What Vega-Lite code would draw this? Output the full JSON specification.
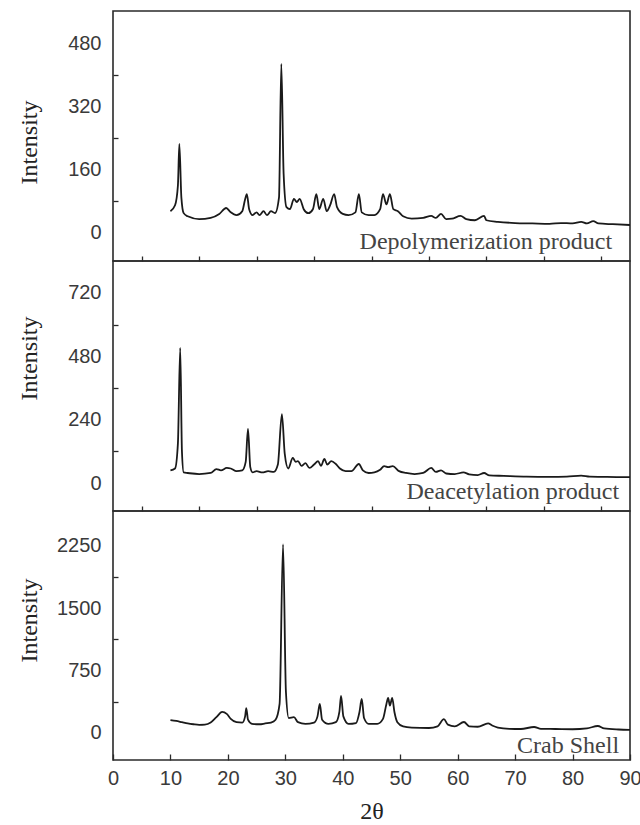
{
  "$schema": "https://vega.github.io/schema/vega-lite/v6.json",
  "padding": {"left": 16, "top": 10, "right": 0, "bottom": 0},
  "background": "white",
  "spacing": 0,
  "bounds": "flush",
  "config": {
    "view": {"stroke": "#2a2a2a", "strokeWidth": 1.6},
    "axis": {
      "domain": false,
      "grid": false,
      "tickColor": "#2a2a2a",
      "tickWidth": 1.3,
      "labelFont": "Liberation Sans",
      "labelFontSize": 20,
      "labelColor": "#3a3a3a",
      "titleFont": "Liberation Serif",
      "titleFontSize": 24,
      "titleFontWeight": "normal",
      "titleColor": "#222222"
    }
  },
  "datasets": {
    "depolymerization": [
      {"theta": 10.0, "intensity": 55}, {"theta": 10.8, "intensity": 70}, {"theta": 11.3, "intensity": 120},
      {"theta": 11.55, "intensity": 225}, {"theta": 11.9, "intensity": 90}, {"theta": 12.3, "intensity": 50},
      {"theta": 13, "intensity": 42}, {"theta": 15, "intensity": 35}, {"theta": 17, "intensity": 38},
      {"theta": 18.5, "intensity": 48}, {"theta": 19.7, "intensity": 63}, {"theta": 20.5, "intensity": 52},
      {"theta": 21.5, "intensity": 45}, {"theta": 22.5, "intensity": 55}, {"theta": 23.0, "intensity": 85},
      {"theta": 23.3, "intensity": 98}, {"theta": 23.7, "intensity": 60}, {"theta": 24.3, "intensity": 45},
      {"theta": 25, "intensity": 52}, {"theta": 25.5, "intensity": 45}, {"theta": 26.2, "intensity": 55},
      {"theta": 26.8, "intensity": 45}, {"theta": 27.5, "intensity": 55}, {"theta": 28.2, "intensity": 50},
      {"theta": 28.9, "intensity": 90}, {"theta": 29.3, "intensity": 427}, {"theta": 29.7, "intensity": 150},
      {"theta": 30.2, "intensity": 65}, {"theta": 30.8, "intensity": 60}, {"theta": 31.5, "intensity": 86},
      {"theta": 32.0, "intensity": 78}, {"theta": 32.5, "intensity": 86}, {"theta": 33.2, "intensity": 60},
      {"theta": 34.0, "intensity": 50}, {"theta": 34.8, "intensity": 60}, {"theta": 35.4, "intensity": 98},
      {"theta": 35.9, "intensity": 60}, {"theta": 36.6, "intensity": 86}, {"theta": 37.2, "intensity": 55},
      {"theta": 37.8, "intensity": 70}, {"theta": 38.5, "intensity": 98}, {"theta": 39.0, "intensity": 65},
      {"theta": 40, "intensity": 48}, {"theta": 41, "intensity": 45}, {"theta": 42.2, "intensity": 52},
      {"theta": 42.8, "intensity": 98}, {"theta": 43.3, "intensity": 52}, {"theta": 44.5, "intensity": 45},
      {"theta": 45.5, "intensity": 45}, {"theta": 46.5, "intensity": 60}, {"theta": 47.0, "intensity": 98},
      {"theta": 47.6, "intensity": 72}, {"theta": 48.2, "intensity": 98}, {"theta": 48.8, "intensity": 60},
      {"theta": 49.6, "intensity": 55}, {"theta": 50.5, "intensity": 42}, {"theta": 52, "intensity": 36},
      {"theta": 54, "intensity": 38}, {"theta": 55.4, "intensity": 43}, {"theta": 56.2, "intensity": 38},
      {"theta": 57.1, "intensity": 48}, {"theta": 58, "intensity": 35}, {"theta": 59, "intensity": 36},
      {"theta": 60.5, "intensity": 43}, {"theta": 61.5, "intensity": 35}, {"theta": 63, "intensity": 32},
      {"theta": 64.6, "intensity": 43}, {"theta": 65, "intensity": 32}, {"theta": 67, "intensity": 28},
      {"theta": 70, "intensity": 25}, {"theta": 73, "intensity": 24}, {"theta": 76, "intensity": 23},
      {"theta": 78, "intensity": 25}, {"theta": 80, "intensity": 24}, {"theta": 81.5, "intensity": 28},
      {"theta": 82.5, "intensity": 24}, {"theta": 83.6, "intensity": 30}, {"theta": 84.5, "intensity": 24},
      {"theta": 87, "intensity": 22}, {"theta": 90, "intensity": 20}
    ],
    "deacetylation": [
      {"theta": 10.0, "intensity": 48}, {"theta": 10.8, "intensity": 55}, {"theta": 11.3, "intensity": 150},
      {"theta": 11.7, "intensity": 512}, {"theta": 12.0, "intensity": 120}, {"theta": 12.3, "intensity": 40},
      {"theta": 13, "intensity": 38}, {"theta": 15, "intensity": 34}, {"theta": 17, "intensity": 38},
      {"theta": 18, "intensity": 53}, {"theta": 18.8, "intensity": 48}, {"theta": 19.8, "intensity": 57},
      {"theta": 20.5, "intensity": 55}, {"theta": 21.5, "intensity": 45}, {"theta": 22.5, "intensity": 48},
      {"theta": 23.1, "intensity": 80}, {"theta": 23.5, "intensity": 205}, {"theta": 23.9, "intensity": 60},
      {"theta": 24.3, "intensity": 40}, {"theta": 25, "intensity": 45}, {"theta": 26, "intensity": 40},
      {"theta": 27, "intensity": 45}, {"theta": 28, "intensity": 42}, {"theta": 28.7, "intensity": 70},
      {"theta": 29.4, "intensity": 261}, {"theta": 29.9, "intensity": 110}, {"theta": 30.5, "intensity": 55},
      {"theta": 31.3, "intensity": 95}, {"theta": 31.8, "intensity": 80}, {"theta": 32.2, "intensity": 83},
      {"theta": 32.8, "intensity": 65}, {"theta": 33.5, "intensity": 75}, {"theta": 34.2, "intensity": 57},
      {"theta": 35, "intensity": 70}, {"theta": 35.7, "intensity": 83}, {"theta": 36.2, "intensity": 65},
      {"theta": 36.8, "intensity": 91}, {"theta": 37.3, "intensity": 70}, {"theta": 38, "intensity": 83},
      {"theta": 38.8, "intensity": 72}, {"theta": 39.5, "intensity": 55}, {"theta": 40.5, "intensity": 45},
      {"theta": 41.5, "intensity": 45}, {"theta": 42.8, "intensity": 72}, {"theta": 43.5, "intensity": 48},
      {"theta": 44.5, "intensity": 38}, {"theta": 45.5, "intensity": 40}, {"theta": 46.5, "intensity": 50},
      {"theta": 47.2, "intensity": 64}, {"theta": 47.9, "intensity": 60}, {"theta": 48.7, "intensity": 64},
      {"theta": 49.8, "intensity": 45}, {"theta": 51, "intensity": 38}, {"theta": 52.5, "intensity": 34},
      {"theta": 54, "intensity": 38}, {"theta": 55.4, "intensity": 57}, {"theta": 56.2, "intensity": 42},
      {"theta": 57.1, "intensity": 48}, {"theta": 58, "intensity": 36}, {"theta": 59.5, "intensity": 34},
      {"theta": 61, "intensity": 40}, {"theta": 62, "intensity": 33}, {"theta": 63.5, "intensity": 30},
      {"theta": 64.6, "intensity": 38}, {"theta": 65.5, "intensity": 29}, {"theta": 68, "intensity": 27},
      {"theta": 72, "intensity": 24}, {"theta": 76, "intensity": 23}, {"theta": 79, "intensity": 24},
      {"theta": 81.5, "intensity": 28}, {"theta": 83, "intensity": 24}, {"theta": 86, "intensity": 23},
      {"theta": 90, "intensity": 22}
    ],
    "crabShell": [
      {"theta": 10, "intensity": 155}, {"theta": 11, "intensity": 145}, {"theta": 12, "intensity": 130},
      {"theta": 13, "intensity": 115}, {"theta": 14, "intensity": 105}, {"theta": 15, "intensity": 98},
      {"theta": 16, "intensity": 100}, {"theta": 17, "intensity": 125}, {"theta": 18, "intensity": 190},
      {"theta": 19, "intensity": 253}, {"theta": 19.8, "intensity": 230}, {"theta": 20.5, "intensity": 170},
      {"theta": 21.5, "intensity": 130}, {"theta": 22.5, "intensity": 125}, {"theta": 23.0, "intensity": 200},
      {"theta": 23.2, "intensity": 300}, {"theta": 23.5, "intensity": 160}, {"theta": 24.2, "intensity": 110},
      {"theta": 25.5, "intensity": 105}, {"theta": 26.5, "intensity": 115}, {"theta": 27.5, "intensity": 125},
      {"theta": 28.3, "intensity": 160}, {"theta": 29.0, "intensity": 350}, {"theta": 29.6, "intensity": 2270},
      {"theta": 30.1, "intensity": 500}, {"theta": 30.6, "intensity": 180}, {"theta": 31.5, "intensity": 190},
      {"theta": 32.2, "intensity": 130}, {"theta": 33.5, "intensity": 110}, {"theta": 35.0, "intensity": 125},
      {"theta": 35.6, "intensity": 200}, {"theta": 36.0, "intensity": 350}, {"theta": 36.4, "intensity": 160},
      {"theta": 37.5, "intensity": 110}, {"theta": 38.8, "intensity": 130}, {"theta": 39.4, "intensity": 250},
      {"theta": 39.7, "intensity": 445}, {"theta": 40.1, "intensity": 200}, {"theta": 41, "intensity": 110},
      {"theta": 42.3, "intensity": 120}, {"theta": 42.9, "intensity": 250}, {"theta": 43.3, "intensity": 409},
      {"theta": 43.7, "intensity": 180}, {"theta": 44.5, "intensity": 110}, {"theta": 46, "intensity": 110},
      {"theta": 47.0, "intensity": 170}, {"theta": 47.6, "intensity": 350}, {"theta": 47.9, "intensity": 421},
      {"theta": 48.2, "intensity": 330}, {"theta": 48.6, "intensity": 421}, {"theta": 49.0, "intensity": 250},
      {"theta": 49.5, "intensity": 130}, {"theta": 50.5, "intensity": 80}, {"theta": 52, "intensity": 65},
      {"theta": 55, "intensity": 60}, {"theta": 56.5, "intensity": 80}, {"theta": 57.6, "intensity": 168},
      {"theta": 58.3, "intensity": 100}, {"theta": 59.5, "intensity": 80}, {"theta": 61.1, "intensity": 132},
      {"theta": 62, "intensity": 80}, {"theta": 63.5, "intensity": 75}, {"theta": 65.3, "intensity": 115},
      {"theta": 66, "intensity": 90}, {"theta": 67, "intensity": 65}, {"theta": 69, "intensity": 50},
      {"theta": 71, "intensity": 48}, {"theta": 73.3, "intensity": 72}, {"theta": 74.5, "intensity": 50},
      {"theta": 77, "intensity": 48}, {"theta": 80, "intensity": 45}, {"theta": 82.5, "intensity": 55},
      {"theta": 84.4, "intensity": 84}, {"theta": 85.5, "intensity": 55}, {"theta": 88, "intensity": 42},
      {"theta": 90, "intensity": 38}
    ]
  },
  "vconcat": [
    {
      "width": 517,
      "height": 250,
      "layer": [
        {
          "data": {"name": "depolymerization"},
          "mark": {"type": "line", "color": "#1a1a1a", "strokeWidth": 1.8, "interpolate": "monotone"},
          "encoding": {
            "x": {"field": "theta", "type": "quantitative",
              "scale": {"domain": [0, 90], "nice": false, "zero": false},
              "axis": {"values": [5, 15, 25, 35, 45, 55, 65, 75, 85], "labels": false, "title": null, "tickSize": -5}},
            "y": {"field": "intensity", "type": "quantitative",
              "scale": {"domain": [-71, 561], "nice": false, "zero": false},
              "axis": {"values": [0, 80, 160, 240, 320, 400, 480], "format": "d",
                "labelExpr": "datum.value % 160 === 0 ? datum.label : ''",
                "tickOpacity": {"condition": {"test": "datum.value % 160 === 0", "value": 0}, "value": 1},
                "tickSize": -5, "labelPadding": 17,
                "title": "Intensity", "titleX": -84, "titleY": 131, "titleAngle": -90,
                "titleAlign": "center", "titleBaseline": "middle"}}
          }
        },
        {
          "data": {"values": [{"label": "Depolymerization product"}]},
          "mark": {"type": "text", "align": "right", "baseline": "alphabetic", "font": "Liberation Serif", "fontSize": 24, "color": "#444444"},
          "encoding": {
            "x": {"datum": 86.9, "type": "quantitative"},
            "y": {"datum": -40, "type": "quantitative"},
            "text": {"field": "label"}
          }
        }
      ]
    },
    {
      "width": 517,
      "height": 250,
      "layer": [
        {
          "data": {"name": "deacetylation"},
          "mark": {"type": "line", "color": "#1a1a1a", "strokeWidth": 1.8, "interpolate": "monotone"},
          "encoding": {
            "x": {"field": "theta", "type": "quantitative",
              "scale": {"domain": [0, 90], "nice": false, "zero": false},
              "axis": {"values": [5, 15, 25, 35, 45, 55, 65, 75, 85], "labels": false, "title": null, "tickSize": -5}},
            "y": {"field": "intensity", "type": "quantitative",
              "scale": {"domain": [-106, 841], "nice": false, "zero": false},
              "axis": {"values": [0, 120, 240, 360, 480, 600, 720], "format": "d",
                "labelExpr": "datum.value % 240 === 0 ? datum.label : ''",
                "tickOpacity": {"condition": {"test": "datum.value % 240 === 0", "value": 0}, "value": 1},
                "tickSize": -5, "labelPadding": 17,
                "title": "Intensity", "titleX": -84, "titleY": 97, "titleAngle": -90,
                "titleAlign": "center", "titleBaseline": "middle"}}
          }
        },
        {
          "data": {"values": [{"label": "Deacetylation product"}]},
          "mark": {"type": "text", "align": "right", "baseline": "alphabetic", "font": "Liberation Serif", "fontSize": 24, "color": "#444444"},
          "encoding": {
            "x": {"datum": 88.1, "type": "quantitative"},
            "y": {"datum": -61, "type": "quantitative"},
            "text": {"field": "label"}
          }
        }
      ]
    },
    {
      "width": 517,
      "height": 249,
      "layer": [
        {
          "data": {"name": "crabShell"},
          "mark": {"type": "line", "color": "#1a1a1a", "strokeWidth": 1.8, "interpolate": "monotone"},
          "encoding": {
            "x": {"field": "theta", "type": "quantitative",
              "scale": {"domain": [0, 90], "nice": false, "zero": false},
              "axis": {"values": [0, 10, 20, 30, 40, 50, 60, 70, 80, 90], "tickSize": -6, "labelPadding": 14,
                "labelFlush": false, "title": "2θ", "titlePadding": 11}},
            "y": {"field": "intensity", "type": "quantitative",
              "scale": {"domain": [-325, 2671], "nice": false, "zero": false},
              "axis": {"values": [0, 375, 750, 1125, 1500, 1875, 2250], "format": "d",
                "labelExpr": "datum.value % 750 === 0 ? datum.label : ''",
                "tickOpacity": {"condition": {"test": "datum.value % 750 === 0", "value": 0}, "value": 1},
                "tickSize": -5, "labelPadding": 17,
                "title": "Intensity", "titleX": -84, "titleY": 109, "titleAngle": -90,
                "titleAlign": "center", "titleBaseline": "middle"}}
          }
        },
        {
          "data": {"values": [{"label": "Crab Shell"}]},
          "mark": {"type": "text", "align": "right", "baseline": "alphabetic", "font": "Liberation Serif", "fontSize": 24, "color": "#444444"},
          "encoding": {
            "x": {"datum": 88.1, "type": "quantitative"},
            "y": {"datum": -241, "type": "quantitative"},
            "text": {"field": "label"}
          }
        }
      ]
    }
  ]
}
